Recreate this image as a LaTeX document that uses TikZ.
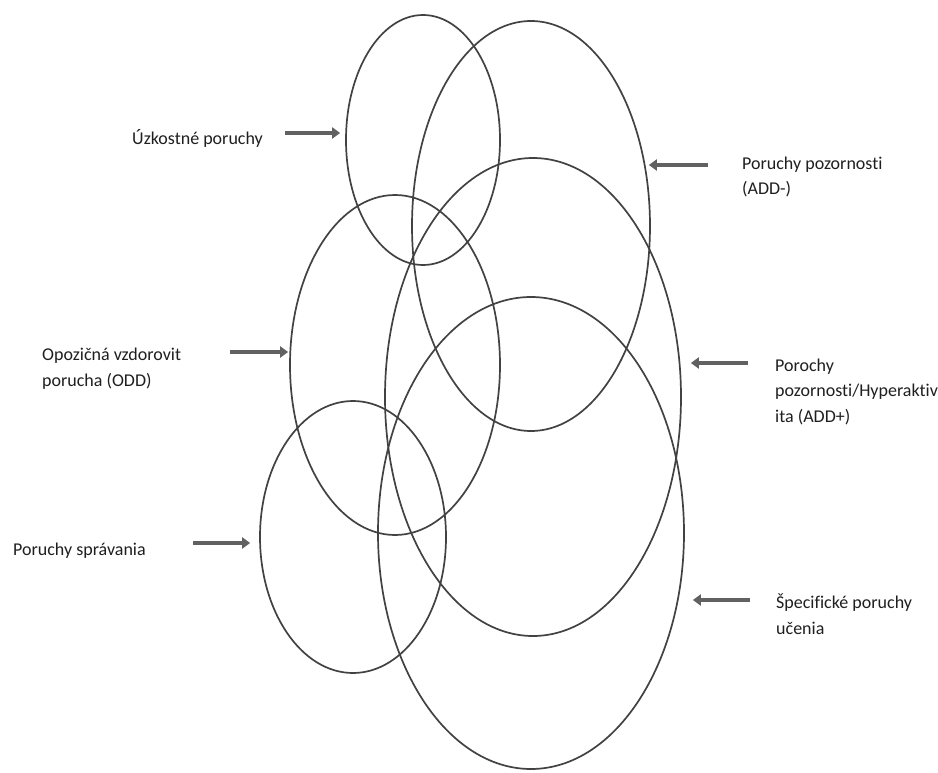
\documentclass[tikz,border=0pt]{standalone}
\usepackage{fontspec}
\setmainfont{Carlito}[Ligatures=NoCommon]
\usetikzlibrary{arrows.meta,shapes.geometric}
\begin{document}
\begin{tikzpicture}[x=1pt,y=-1pt,
  ell/.style={draw=black!74, line width=1.7pt, ellipse, inner sep=0pt},
  arr/.style={draw=black!62, line width=4.5pt, -{Triangle[length=8pt,width=11pt]}},
  lbl/.style={font=\fontsize{18}{25.5}\selectfont, text=black!88, align=left, inner sep=0pt, anchor=base west}]
\useasboundingbox (0,0) rectangle (938,773);
\fill[white] (0,0) rectangle (938,773);
% ellipses
\node[ell, minimum width=154pt, minimum height=250pt] (anx)  at (423,140) {};
\node[ell, minimum width=238pt, minimum height=410pt] (addm) at (531,226) {};
\node[ell, minimum width=210pt, minimum height=340pt] (odd)  at (395,365) {};
\node[ell, minimum width=296pt, minimum height=478pt] (addp) at (533,397) {};
\node[ell, minimum width=306pt, minimum height=472pt] (spec) at (531,533) {};
\node[ell, minimum width=186pt, minimum height=272pt] (cond) at (353,537) {};
% labels (base = last line's baseline)
\node[lbl] (l1) at (132,145) {Úzkostné poruchy};
\node[lbl] (l2) at (742,195) {Poruchy pozornosti\\(ADD-)};
\node[lbl] (l3) at (42,386) {Opozičná vzdorovit\\porucha (ODD)};
\node[lbl] (l4) at (775,422) {Porochy\\pozornosti/Hyperaktiv\\ita (ADD+)};
\node[lbl] (l5) at (13,555) {Poruchy správania};
\node[lbl] (l6) at (776,634) {Špecifické poruchy\\učenia};
% arrows
\coordinate (s1) at (285,133);
\coordinate (s2) at (708,165);
\coordinate (s3) at (230,352);
\coordinate (s4) at (748,363);
\coordinate (s5) at (193,543);
\coordinate (s6) at (750,600);
\draw[arr, shorten >=5pt] (s1) -- (s1 -| anx.west);
\draw[arr, shorten >=-2pt] (s2) -- (s2 -| addm.east);
\draw[arr, shorten >=1pt] (s3) -- (s3 -| odd.west);
\draw[arr, shorten >=9pt] (s4) -- (s4 -| addp.east);
\draw[arr, shorten >=9pt] (s5) -- (s5 -| cond.west);
\draw[arr, shorten >=8pt] (s6) -- (s6 -| spec.east);
\end{tikzpicture}
\end{document}
